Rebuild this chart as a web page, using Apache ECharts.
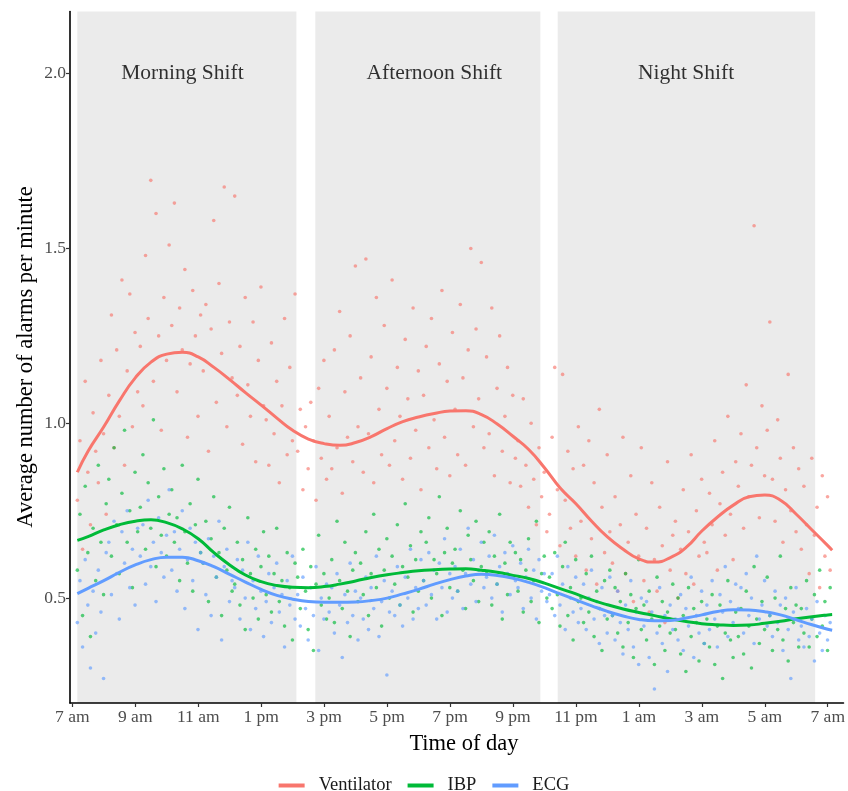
<!DOCTYPE html>
<html>
<head>
<meta charset="utf-8">
<script src="https://cdn.jsdelivr.net/npm/echarts@6/dist/echarts.min.js"></script>
<style>
  html, body { margin: 0; padding: 0; background: #ffffff; overflow: hidden; }
  #chart { width: 848px; height: 791px; }
</style>
</head>
<body>
<div id="chart"></div>
<script>
// Hours are counted from 7 am (0) to 7 am the next day (24).
const tickHours = [0, 2, 4, 6, 8, 10, 12, 14, 16, 18, 20, 22, 24];
const tickLabels = ['7 am', '9 am', '11 am', '1 pm', '3 pm', '5 pm', '7 pm', '9 pm', '11 pm', '1 am', '3 am', '5 am', '7 am'];
const yTicks = [0.5, 1.0, 1.5, 2.0];

// Shift bands (start hour, end hour) and their captions
const shiftNames = ['Morning Shift', 'Afternoon Shift', 'Night Shift'];
const shiftStart = [0.16, 7.72, 15.42];
const shiftEnd = [7.12, 14.87, 23.60];
const shiftLabelHour = [3.5, 11.5, 19.5];
const shiftLabelValue = [2.0, 2.0, 2.0];

// Five-minute averages, starting 7:10 am
const sampleStartHour = 0.16;
const sampleStepHour = 5 / 60;

const ventilatorPoints = [
  0.78, 0.95, 0.64, 1.12, 0.86, 0.71, 1.03, 0.92, 0.83, 1.18, 0.97, 0.74,
  1.08, 1.31, 0.93, 1.21, 1.02, 1.41, 0.88, 1.15, 1.37, 0.99, 1.26, 1.09,
  1.22, 1.05, 1.48, 1.30, 1.695, 1.12, 1.60, 1.25, 0.98, 1.36, 1.18, 1.51,
  1.28, 1.63, 1.09, 1.33, 1.21, 1.44, 0.96, 1.17, 1.38, 1.25, 1.02, 1.31,
  1.15, 1.34, 0.92, 1.27, 1.58, 1.06, 1.40, 1.20, 1.676, 0.99, 1.29, 1.13,
  1.65, 1.08, 1.22, 0.94, 1.36, 1.11, 1.02, 1.29, 0.89, 1.18, 1.39, 1.05,
  1.01, 0.88, 1.23, 0.97, 1.12, 0.83, 1.05, 1.30, 0.91, 1.16, 0.95, 1.37,
  0.92, 1.04, 0.81, 0.99, 0.87, 1.06, 0.95, 0.78, 1.10, 0.90, 1.18, 0.84,
  1.02, 0.87, 1.21, 0.93, 1.32, 0.80, 1.09, 0.96, 1.25, 0.89, 1.45, 0.99,
  1.13, 0.86, 1.47, 0.97, 1.19, 0.83, 1.36, 1.04, 0.91, 1.28, 1.10, 0.88,
  1.41, 0.95, 1.16, 1.02, 0.84, 1.24, 1.07, 0.90, 1.33, 0.98, 1.15, 0.81,
  1.08, 1.22, 0.93, 1.30, 1.01, 0.87, 1.17, 1.38, 0.96, 1.12, 0.85, 1.26,
  1.04, 0.91, 1.34, 1.13, 0.88, 1.21, 1.50, 0.99, 1.27, 1.07, 1.46, 0.93,
  1.19, 0.97, 1.33, 0.85, 1.10, 1.25, 0.92, 1.02, 1.16, 0.83, 1.08, 0.90,
  0.95, 0.82, 1.07, 0.88, 0.76, 1.00, 0.84, 0.71, 0.93, 0.79, 0.86, 0.69,
  0.74, 0.96, 1.16, 0.81, 0.65, 1.14, 0.78, 0.92, 0.70, 0.87, 0.62, 0.99,
  0.72, 0.88, 0.58, 0.95, 0.67, 0.83, 0.54, 1.04, 0.76, 0.63, 0.91, 0.69,
  0.60, 0.79, 0.52, 0.71, 0.96, 0.57, 0.66, 0.85, 0.49, 0.74, 0.62, 0.93,
  0.55, 0.70, 0.46, 0.83, 0.61, 0.52, 0.76, 0.65, 0.43, 0.89, 0.58, 0.68,
  0.72, 0.50, 0.64, 0.81, 0.57, 0.69, 0.91, 0.54, 0.75, 0.62, 0.84, 0.66,
  0.63, 0.80, 0.71, 0.95, 0.58, 0.77, 0.86, 0.68, 1.02, 0.74, 0.61, 0.89,
  0.82, 0.97, 0.70, 1.11, 0.79, 0.88, 1.565, 0.93, 0.73, 1.05, 0.85, 0.98,
  1.29, 0.84, 0.72, 1.01, 0.90, 0.66, 0.81, 1.14, 0.75, 0.93, 0.69, 0.87,
  0.64, 0.82, 0.71, 0.57, 0.90, 0.68, 0.76, 0.53, 0.85, 0.62, 0.79, 0.58
];

const ibpPoints = [
  0.58, 0.74, 0.45, 0.82, 0.63, 0.39, 0.70, 0.55, 0.88, 0.66, 0.51, 0.77,
  0.84, 0.62, 0.93, 0.71, 0.57, 0.80, 0.98, 0.66, 0.75, 0.53, 0.86, 0.69,
  0.76, 0.91, 0.64, 0.83, 0.70, 1.01, 0.59, 0.79, 0.68, 0.87, 0.62, 0.74,
  0.81, 0.66, 0.73, 0.55, 0.88, 0.69, 0.60, 0.77, 0.52, 0.71, 0.84, 0.63,
  0.60, 0.72, 0.49, 0.67, 0.79, 0.56, 0.63, 0.45, 0.70, 0.58, 0.76, 0.52,
  0.54, 0.66, 0.48, 0.61, 0.41, 0.73, 0.57, 0.50, 0.64, 0.44, 0.59, 0.69,
  0.51, 0.62, 0.46, 0.57, 0.70, 0.49, 0.55, 0.42, 0.63, 0.53, 0.38, 0.60,
  0.56, 0.47, 0.64, 0.52, 0.41, 0.59, 0.35, 0.54, 0.68, 0.48, 0.57, 0.44,
  0.50, 0.61, 0.43, 0.72, 0.55, 0.47, 0.66, 0.52, 0.39, 0.58, 0.63, 0.49,
  0.60, 0.51, 0.69, 0.45, 0.57, 0.74, 0.53, 0.64, 0.42, 0.58, 0.67, 0.50,
  0.62, 0.54, 0.71, 0.48, 0.59, 0.77, 0.56, 0.65, 0.46, 0.61, 0.52, 0.69,
  0.55, 0.66, 0.73, 0.50, 0.61, 0.57, 0.79, 0.45, 0.63, 0.70, 0.53, 0.60,
  0.64, 0.52, 0.75, 0.58, 0.47, 0.68, 0.61, 0.55, 0.72, 0.49, 0.59, 0.66,
  0.57, 0.69, 0.48, 0.62, 0.54, 0.74, 0.44, 0.60, 0.51, 0.66, 0.56, 0.63,
  0.52, 0.61, 0.46, 0.58, 0.67, 0.49, 0.55, 0.72, 0.43, 0.57, 0.62, 0.50,
  0.56, 0.47, 0.63, 0.51, 0.42, 0.59, 0.66, 0.45, 0.53, 0.38, 0.61, 0.49,
  0.50, 0.43, 0.57, 0.46, 0.62, 0.39, 0.52, 0.47, 0.35, 0.55, 0.44, 0.58,
  0.45, 0.53, 0.40, 0.49, 0.36, 0.57, 0.43, 0.51, 0.33, 0.47, 0.61, 0.41,
  0.48, 0.38, 0.52, 0.44, 0.31, 0.56, 0.42, 0.49, 0.35, 0.46, 0.40, 0.54,
  0.41, 0.50, 0.34, 0.45, 0.29, 0.53, 0.39, 0.47, 0.43, 0.32, 0.49, 0.37,
  0.44, 0.36, 0.51, 0.31, 0.42, 0.48, 0.27, 0.40, 0.55, 0.38, 0.33, 0.46,
  0.39, 0.47, 0.34, 0.52, 0.42, 0.30, 0.59, 0.44, 0.37, 0.49, 0.41, 0.56,
  0.45, 0.35, 0.50, 0.41, 0.62, 0.38, 0.47, 0.32, 0.53, 0.43, 0.48, 0.36,
  0.47, 0.40, 0.55, 0.36, 0.44, 0.51, 0.39, 0.58, 0.42, 0.49, 0.35, 0.53
];

const ecgPoints = [
  0.43, 0.55, 0.36, 0.61, 0.48, 0.30, 0.52, 0.40, 0.58, 0.46, 0.27, 0.63,
  0.66, 0.51, 0.72, 0.57, 0.44, 0.69, 0.60, 0.75, 0.53, 0.64, 0.48, 0.70,
  0.62, 0.71, 0.54, 0.78, 0.59, 0.66, 0.49, 0.73, 0.63, 0.56, 0.68, 0.81,
  0.58, 0.69, 0.52, 0.64, 0.75, 0.47, 0.61, 0.70, 0.55, 0.66, 0.41, 0.63,
  0.60, 0.51, 0.67, 0.45, 0.62, 0.56, 0.72, 0.38, 0.59, 0.64, 0.49, 0.55,
  0.53, 0.61, 0.44, 0.58, 0.50, 0.66, 0.41, 0.55, 0.47, 0.62, 0.52, 0.39,
  0.49, 0.57, 0.43, 0.53, 0.60, 0.46, 0.51, 0.36, 0.55, 0.48, 0.62, 0.44,
  0.51, 0.42, 0.56, 0.47, 0.38, 0.53, 0.45, 0.59, 0.35, 0.50, 0.44, 0.54,
  0.46, 0.53, 0.40, 0.57, 0.48, 0.33, 0.51, 0.43, 0.60, 0.45, 0.52, 0.38,
  0.50, 0.44, 0.56, 0.41, 0.53, 0.47, 0.62, 0.39, 0.49, 0.55, 0.28, 0.46,
  0.52, 0.45, 0.59, 0.48, 0.42, 0.56, 0.50, 0.64, 0.44, 0.53, 0.47, 0.61,
  0.55, 0.48, 0.63, 0.51, 0.58, 0.44, 0.60, 0.53, 0.67, 0.46, 0.57, 0.50,
  0.59, 0.52, 0.64, 0.47, 0.57, 0.70, 0.54, 0.61, 0.49, 0.58, 0.66, 0.53,
  0.56, 0.62, 0.50, 0.68, 0.54, 0.59, 0.46, 0.63, 0.57, 0.51, 0.65, 0.55,
  0.53, 0.60, 0.47, 0.56, 0.64, 0.50, 0.58, 0.44, 0.61, 0.52, 0.57, 0.49,
  0.51, 0.57, 0.45, 0.62, 0.48, 0.54, 0.41, 0.59, 0.50, 0.46, 0.56, 0.43,
  0.47, 0.54, 0.41, 0.50, 0.58, 0.44, 0.49, 0.37, 0.53, 0.45, 0.40, 0.56,
  0.45, 0.38, 0.52, 0.43, 0.34, 0.48, 0.41, 0.55, 0.36, 0.46, 0.31, 0.50,
  0.42, 0.49, 0.33, 0.46, 0.24, 0.40, 0.53, 0.37, 0.45, 0.29, 0.48, 0.41,
  0.44, 0.38, 0.51, 0.35, 0.47, 0.42, 0.56, 0.33, 0.45, 0.40, 0.52, 0.37,
  0.48, 0.41, 0.55, 0.44, 0.36, 0.51, 0.46, 0.59, 0.39, 0.49, 0.43, 0.54,
  0.47, 0.53, 0.40, 0.57, 0.45, 0.50, 0.37, 0.62, 0.44, 0.48, 0.55, 0.42,
  0.45, 0.39, 0.52, 0.43, 0.48, 0.35, 0.50, 0.41, 0.27, 0.46, 0.53, 0.38,
  0.42, 0.36, 0.47, 0.39, 0.44, 0.32, 0.49, 0.40, 0.35, 0.45, 0.38, 0.43
];

// Smoothed trend of each monitor, sampled every half hour
const trendHours = [0.16, 0.5, 1, 1.5, 2, 2.5, 3, 3.5, 4, 4.5, 5, 5.5, 6, 6.5, 7, 7.5, 8, 8.5, 9, 9.5,
  10, 10.5, 11, 11.5, 12, 12.5, 13, 13.5, 14, 14.5, 15, 15.5, 16, 16.5, 17, 17.5, 18, 18.5, 19, 19.5,
  20, 20.5, 21, 21.5, 22, 22.5, 23, 23.5, 24, 24.14];
const ventilatorTrend = [0.86, 0.92, 0.99, 1.065, 1.13, 1.175, 1.198, 1.203, 1.19, 1.16, 1.125, 1.088, 1.052, 1.015, 0.98, 0.955, 0.942, 0.937, 0.945, 0.962,
  0.985, 1.005, 1.018, 1.028, 1.035, 1.036, 1.025, 0.998, 0.963, 0.925, 0.873, 0.815, 0.77, 0.72, 0.675, 0.64, 0.612, 0.603, 0.616, 0.645,
  0.692, 0.732, 0.766, 0.79, 0.795, 0.78, 0.74, 0.695, 0.65, 0.637];
const ibpTrend = [0.665, 0.676, 0.695, 0.71, 0.72, 0.724, 0.716, 0.698, 0.67, 0.63, 0.595, 0.566, 0.547, 0.536, 0.531, 0.53, 0.533, 0.54, 0.549, 0.559,
  0.567, 0.573, 0.578, 0.581, 0.583, 0.584, 0.58, 0.574, 0.565, 0.556, 0.543, 0.527, 0.512, 0.495, 0.481, 0.469, 0.459, 0.45, 0.441, 0.433,
  0.427, 0.424, 0.422, 0.423, 0.428, 0.434, 0.441, 0.447, 0.452, 0.453];
const ecgTrend = [0.513, 0.528, 0.55, 0.574, 0.595, 0.61, 0.617, 0.617, 0.607, 0.59, 0.568, 0.546, 0.525, 0.508, 0.497, 0.49, 0.488, 0.488, 0.489, 0.493,
  0.5, 0.512, 0.525, 0.54, 0.553, 0.563, 0.568, 0.565, 0.557, 0.545, 0.53, 0.512, 0.495, 0.478, 0.462, 0.449, 0.439, 0.435, 0.436, 0.443,
  0.452, 0.462, 0.467, 0.466, 0.461, 0.452, 0.438, 0.424, 0.411, 0.408];

const seriesNames = ['Ventilator', 'IBP', 'ECG'];
const seriesColors = ['#F8766D', '#00BA38', '#619CFF'];

const FONT = "'Liberation Serif', 'DejaVu Serif', serif";

function toPoints(values) {
  return values.map((v, i) => [sampleStartHour + i * sampleStepHour, v]);
}
function toTrend(values) {
  return values.map((v, i) => [trendHours[i], v]);
}

const pointSets = [ventilatorPoints, ibpPoints, ecgPoints];
const trendSets = [ventilatorTrend, ibpTrend, ecgTrend];

const series = [];

// Grey shift bands with their captions
series.push({
  name: 'shifts',
  type: 'scatter',
  z: 1,
  silent: true,
  symbolSize: 0,
  data: shiftNames.map((n, i) => [shiftLabelHour[i], shiftLabelValue[i], n]),
  label: {
    show: true,
    position: 'inside',
    formatter: p => p.value[2],
    fontFamily: FONT,
    fontSize: 21.5,
    color: '#000000'
  },
  markArea: {
    silent: true,
    itemStyle: { color: '#EBEBEB' },
    data: shiftNames.map((n, i) => [{ xAxis: shiftStart[i] }, { xAxis: shiftEnd[i] }])
  }
});

pointSets.forEach((vals, k) => {
  series.push({
    name: seriesNames[k] + ' points',
    type: 'scatter',
    z: 2,
    silent: true,
    symbolSize: 3.6,
    itemStyle: { color: seriesColors[k], opacity: 0.65 },
    data: toPoints(vals)
  });
});

trendSets.forEach((vals, k) => {
  series.push({
    name: seriesNames[k],
    type: 'line',
    z: 3,
    silent: true,
    smooth: true,
    showSymbol: false,
    symbol: 'none',
    color: seriesColors[k],
    lineStyle: { color: seriesColors[k], width: 3 },
    data: toTrend(vals)
  });
});

const chart = echarts.init(document.getElementById('chart'), null, { renderer: 'canvas' });
chart.setOption({
  animation: false,
  backgroundColor: '#ffffff',
  textStyle: { fontFamily: FONT },
  grid: { left: 70, right: 0, top: 11.5, bottom: 88, containLabel: false },
  xAxis: {
    type: 'value',
    z: 10,
    min: -0.073,
    max: 24.5,
    axisLine: { show: true, onZero: false, lineStyle: { color: '#000000', width: 1.6 } },
    axisTick: { show: true, customValues: tickHours, length: 4, lineStyle: { color: '#333333', width: 1.2 } },
    axisLabel: {
      customValues: tickHours,
      formatter: v => tickLabels[tickHours.indexOf(Math.round(v))] || '',
      fontFamily: FONT,
      fontSize: 17.5,
      color: '#4d4d4d',
      margin: 5
    },
    splitLine: { show: false }
  },
  yAxis: {
    type: 'value',
    z: 10,
    min: 0.2,
    max: 2.178,
    axisLine: { show: true, onZero: false, lineStyle: { color: '#000000', width: 1.6 } },
    axisTick: { show: true, customValues: yTicks, length: 4, lineStyle: { color: '#333333', width: 1.2 } },
    axisLabel: {
      customValues: yTicks,
      formatter: v => v.toFixed(1),
      fontFamily: FONT,
      fontSize: 17.5,
      color: '#4d4d4d',
      margin: 4
    },
    splitLine: { show: false }
  },
  legend: {
    data: seriesNames,
    left: 'center',
    top: 771,
    icon: 'rect',
    itemWidth: 26,
    itemHeight: 4,
    itemGap: 16,
    textStyle: { fontFamily: FONT, fontSize: 18.5, color: '#1a1a1a', padding: [0, 0, 0, 9] },
    selectedMode: false
  },
  graphic: [
    {
      type: 'text',
      style: {
        text: 'Time of day',
        font: "22.5px 'Liberation Serif', serif",
        fill: '#000000',
        align: 'center',
        verticalAlign: 'middle'
      },
      x: 464,
      y: 744
    },
    {
      type: 'text',
      style: {
        text: 'Average number of alarms per minute',
        font: "22.5px 'Liberation Serif', serif",
        fill: '#000000',
        align: 'center',
        verticalAlign: 'middle'
      },
      x: 26,
      y: 357,
      rotation: Math.PI / 2
    }
  ],
  series: series
});
</script>
</body>
</html>
